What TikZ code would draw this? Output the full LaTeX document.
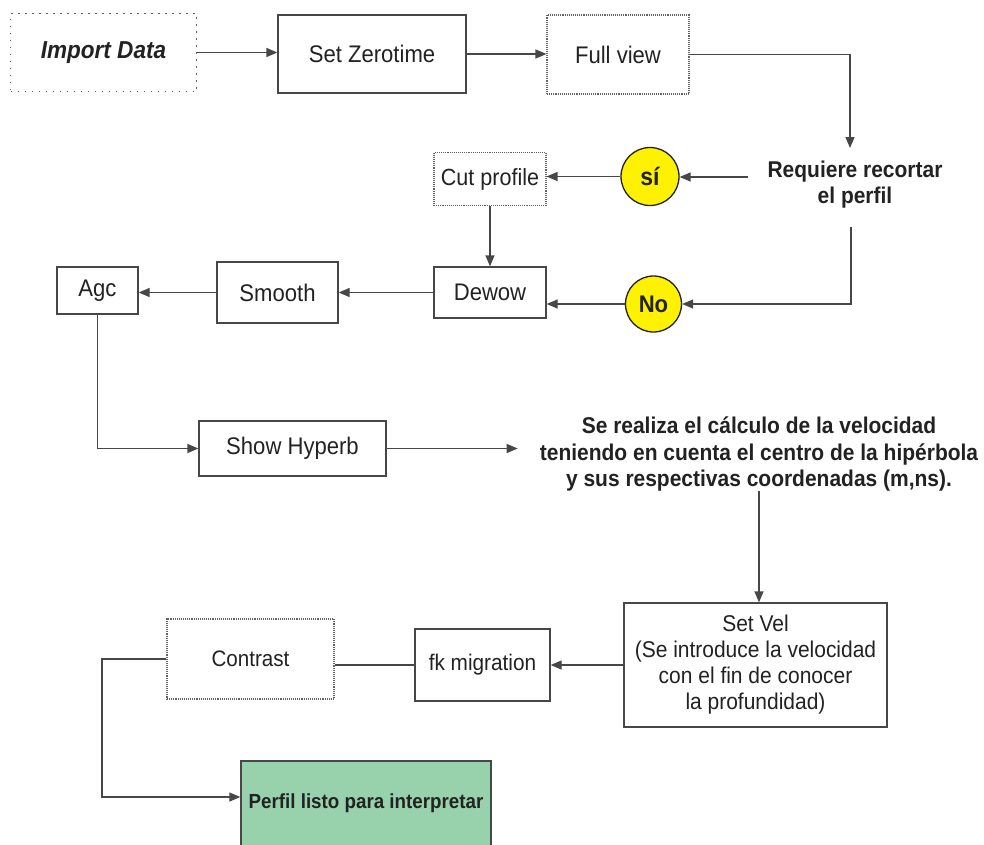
\documentclass[tikz,border=0pt]{standalone}
\usepackage{fontspec}
\setmainfont{Liberation Sans}[FakeStretch=0.92]
\usetikzlibrary{arrows.meta,calc}
\definecolor{ln}{HTML}{474747}
\definecolor{txt}{HTML}{222222}
\definecolor{yel}{HTML}{FFF200}
\definecolor{grn}{HTML}{98D2AD}
\begin{document}
\begin{tikzpicture}[x=1pt,y=-1pt,
  box/.style={draw=ln, line width=1.3pt, rectangle, inner sep=0pt, align=center,
    text=txt, font=\fontsize{24}{26}\selectfont},
  dbox/.style={box, draw=ln!85, line width=1.1pt, densely dotted},
  ibox/.style={box, draw=ln!85, line width=1.6pt, dash pattern=on 1.6pt off 5.4pt},
  circ/.style={circle, draw=txt, line width=1.3pt, fill=yel, inner sep=0pt,
    minimum size=58pt, text=txt, font=\bfseries\fontsize{25}{26}\selectfont},
  plain/.style={inner sep=0pt, align=center, text=txt},
  conn/.style={draw=ln, line width=1.3pt},
  arr/.style={conn, -{Triangle[length=11pt,width=9pt]}}]
\clip (0,0) rectangle (984,844);
\fill[white] (0,0) rectangle (984,844);
% nodes
\node[ibox, minimum width=186pt, minimum height=78pt] (imp) at (103.5,52.5)
  {\bfseries\itshape\fontsize{24.5}{26}\selectfont Import Data};
\node[box, minimum width=188pt, minimum height=78pt] (sz) at (372,54) {Set Zerotime};
\node[dbox, minimum width=142pt, minimum height=79pt] (fv) at (618,54.5) {Full view};
\node[plain, font=\bfseries\fontsize{22.8}{26}\selectfont] (req) at (855,185)
  {Requiere recortar\\el perfil};
\coordinate (rqN) at (850,148);
\coordinate (rqW) at (748,177);
\coordinate (rqS) at (851,227);
\node[circ] (si) at (650,176.5) {sí};
\node[dbox, minimum width=112pt, minimum height=53pt, font=\fontsize{23.4}{26}\selectfont] (cut) at (490,179) {Cut profile};
\node[box, minimum width=112pt, minimum height=51pt] (dew) at (490,292.5) {Dewow};
\node[circ, minimum size=56pt, font=\bfseries\fontsize{24}{26}\selectfont] (no) at (653.5,304) {No};
\node[box, minimum width=121pt, minimum height=61pt] (smo) at (277.5,292.5) {Smooth};
\node[box, minimum width=81pt, minimum height=47pt] (agc) at (97.5,290.5) {Agc};
\node[box, minimum width=187pt, minimum height=55pt] (show) at (292.5,448.5) {Show Hyperb};
\node[plain, inner xsep=22pt, font=\bfseries\fontsize{22.8}{26.5}\selectfont] (calc) at (759,454)
  {Se realiza el cálculo de la velocidad\\teniendo en cuenta el centro de la hipérbola\\y sus respectivas coordenadas (m,ns).};
\node[box, minimum width=263pt, minimum height=124pt, font=\fontsize{22.8}{26}\selectfont] (vel) at (755.5,665)
  {Set Vel\\(Se introduce la velocidad\\con el fin de conocer\\la profundidad)};
\node[box, minimum width=135pt, minimum height=72pt, font=\fontsize{22.6}{26}\selectfont] (fk) at (482.5,665) {fk migration};
\node[dbox, minimum width=167pt, minimum height=80pt, font=\fontsize{22.4}{26}\selectfont] (con) at (250.5,659) {Contrast};
\node[box, fill=grn, minimum width=250pt, minimum height=87pt, font=\bfseries\fontsize{20.4}{22}\selectfont] (per) at (366,804.5)
  {\raisebox{6.5pt}{Perfil listo para interpretar}};
\coordinate (bend) at (102,0);
% connectors
\draw[arr] (imp.east) -- (imp.east -| sz.west);
\draw[arr] (sz.east) -- (sz.east -| fv.west);
\draw[arr] (fv.east) -| (rqN);
\draw[arr] (rqW) -- (rqW -| si.east);
\draw[arr] (si.west) -- (si.west -| cut.east);
\draw[arr] (cut.south) -- (dew.north);
\draw[arr] (rqS) |- (no.east);
\draw[arr] (no.west) -- (no.west -| dew.east);
\draw[arr] (dew.west) -- (smo.east);
\draw[arr] (smo.west) -- (smo.west -| agc.east);
\draw[arr] (agc.south) |- (show.west);
\draw[arr] (show.east) -- (show.east -| calc.west);
\draw[arr] (calc.south) -- (calc.south |- vel.north);
\draw[arr] (vel.west) -- (fk.east);
\draw[conn] (fk.west) -- (fk.west -| con.east);
\draw[arr] (con.west) -- (con.west -| bend) |- ([yshift=7.5pt]per.west);
\end{tikzpicture}
\end{document}
